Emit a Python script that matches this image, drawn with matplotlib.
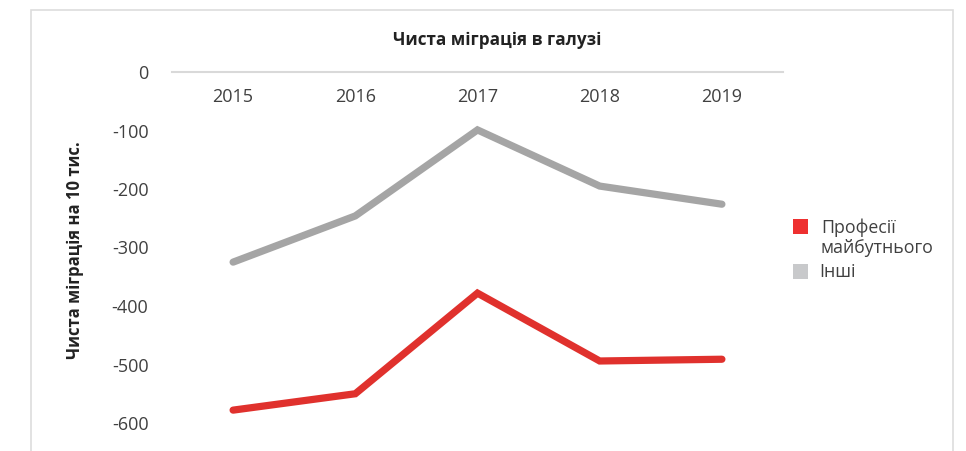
import matplotlib
matplotlib.use("Agg")
import matplotlib.pyplot as plt
from matplotlib.patches import Rectangle

plt.rcParams['font.family'] = ['Open Sans', 'DejaVu Sans']

years = ["2015", "2016", "2017", "2018", "2019"]
future_prof = [-578, -550, -378, -494, -491]
others = [-325, -246, -99, -195, -226]
yticks = [0, -100, -200, -300, -400, -500, -600]

W, H = 966, 451
fig = plt.figure(figsize=(W/100, H/100), dpi=100)

# chart border
fig.patches.append(Rectangle((31/W, -0.1), (953-31)/W, (H-10)/H + 0.1,
                             transform=fig.transFigure, fill=False,
                             edgecolor='#DDDDDD', linewidth=1.2, zorder=0))

# axes: 0 at y=72 px, -700 at y=481.5 px
y0_px, ybot_px = 72, 72 + 7*58.5
left, right = 172, 783
ax = fig.add_axes([left/W, 1 - ybot_px/H, (right-left)/W, (ybot_px-y0_px)/H])
ax.set_ylim(-700, 0)
ax.set_xlim(0, len(years))

xs = [i + 0.5 for i in range(len(years))]
ax.plot(xs, others, color='#A5A5A5', linewidth=5.2, solid_capstyle='round', solid_joinstyle='miter')
ax.plot(xs, future_prof, color='#E0312D', linewidth=5.2, solid_capstyle='round', solid_joinstyle='miter')

for s in ['left', 'right', 'bottom']:
    ax.spines[s].set_visible(False)
ax.spines['top'].set_color('#D9D9D9')
ax.spines['top'].set_linewidth(1.5)

ax.set_yticks(yticks)
ax.set_yticklabels([str(v) for v in yticks], fontsize=13, color='#404040')
ax.tick_params(axis='y', length=0, pad=17)
ax.set_xticks([])
for x, lab in zip(xs, years):
    ax.text(x, -43, lab, ha='center', va='center', fontsize=13, color='#404040')

fig.text(497/W, 1 - 40/H, "Чиста міграція в галузі", ha='center', va='center',
         fontsize=12.3, fontweight='bold', color='#222222')
fig.text(75/W, 1 - 250/H, "Чиста міграція на 10 тис.", ha='center', va='center',
         rotation=90, fontsize=12, fontweight='bold', color='#222222')

# legend
fig.patches.append(Rectangle((793/W, 1 - 234/H), 15/W, 15/H, transform=fig.transFigure,
                             facecolor='#EE3030', edgecolor='none'))
fig.patches.append(Rectangle((793/W, 1 - 279/H), 15/W, 15/H, transform=fig.transFigure,
                             facecolor='#C8C9CB', edgecolor='none'))
fig.text(821/W, 1 - 238/H, "Професії\nмайбутнього", ha='left', va='center',
         fontsize=12.8, color='#404040', linespacing=1.15)
fig.text(819/W, 1 - 272/H, "Інші", ha='left', va='center', fontsize=12.8, color='#404040')

fig.savefig("out.png", dpi=100)
